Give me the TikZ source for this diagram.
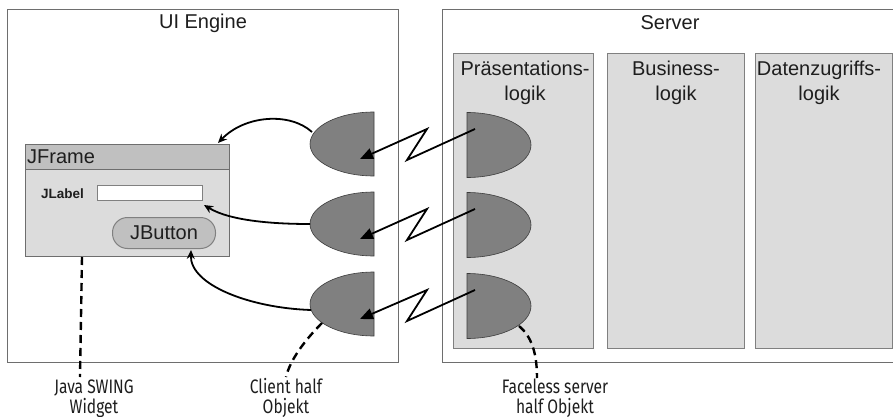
\documentclass[tikz,border=0pt]{standalone}
\usepackage{fontspec}
\setmainfont{Liberation Sans}
\newfontfamily\condfont[FakeStretch=0.8]{Fira Sans}
\usetikzlibrary{arrows.meta}

\definecolor{boxline}{HTML}{6E6E6E}
\definecolor{tierfill}{HTML}{DCDCDC}
\definecolor{tierline}{HTML}{808080}
\definecolor{halffill}{HTML}{808080}
\definecolor{halfline}{HTML}{3C3C3C}
\definecolor{titlefill}{HTML}{C0C0C0}
\definecolor{bodyfill}{HTML}{DCDCDC}
\definecolor{textdark}{HTML}{1E1E1E}

\tikzset{
  container/.style={draw=boxline, line width=1.2pt, fill=white, anchor=north west, inner sep=0pt},
  tierbox/.style={draw=tierline, line width=1pt, fill=tierfill, anchor=north west, inner sep=0pt,
                  minimum height=295pt},
  bigtext/.style={font=\fontsize{20}{24}\selectfont, text=textdark, inner sep=0pt},
  halfshape/.style={fill=halffill, draw=halfline, line width=0.6pt},
  zigzag/.style={line width=1.8pt, -{Triangle[length=13pt,width=11pt]}},
  bindarrow/.style={line width=1.8pt, -{Stealth[length=9pt,width=8pt]}},
  notedash/.style={line width=2.4pt, dash pattern=on 8pt off 5pt},
  notetext/.style={font=\condfont\fontsize{19.5}{22}\selectfont, text=textdark, inner sep=0pt, anchor=base},
  % client half object: flat edge on the right
  clienthalf/.pic={
    \draw[halfshape] (0,-32) arc[start angle=90,end angle=270,x radius=64pt,y radius=32pt] -- cycle;
    \coordinate (-tip) at (-14,15);
    \coordinate (-nw) at (-62,-12);
    \coordinate (-w) at (-64,0);
    \coordinate (-sw) at (-63,6);
    \coordinate (-s) at (-52,19);
  },
  % server half object: flat edge on the left
  serverhalf/.pic={
    \draw[halfshape] (0,-32.5) arc[start angle=90,end angle=-90,x radius=64pt,y radius=32.5pt] -- cycle;
    \coordinate (-out) at (8,-16);
    \coordinate (-s) at (52,20);
  }
}

\begin{document}
\begin{tikzpicture}[x=1pt,y=-1pt]
\useasboundingbox (0,0) rectangle (893,417);
\fill[white] (0,0) rectangle (893,417);

% the two outer containers (the server box runs past the right edge)
\node[container, minimum width=391pt, minimum height=353pt] (ui) at (7,9) {};
\node[container, minimum width=456pt, minimum height=353pt] (server) at (442,9) {};
\node[bigtext] (uititle) at (203,23) {UI Engine};
\node[bigtext] (srvtitle) at (670,23) {Server};

% server tiers
\node[tierbox, minimum width=140pt] (praes) at (453,53) {};
\node[tierbox, minimum width=137pt] (business) at (607,53) {};
\node[tierbox, minimum width=137pt] (daten) at (755,53) {};
\node[bigtext, anchor=base] (praes1) at (525,76) {Präsentations-};
\node[bigtext, anchor=base] (praes2) at (525,101) {logik};
\node[bigtext, anchor=base] (bus1) at (676,76) {Business-};
\node[bigtext, anchor=base] (bus2) at (676,101) {logik};
\node[bigtext, anchor=base] (dat1) at (819,76) {Datenzugriffs-};
\node[bigtext, anchor=base] (dat2) at (819,101) {logik};

% Swing widget window
\node[draw=boxline, line width=1pt, fill=bodyfill, anchor=north west, inner sep=0pt,
      minimum width=204pt, minimum height=112pt] (jframe) at (25,144) {};
\node[draw=boxline, line width=1pt, fill=titlefill, anchor=north west, inner sep=0pt,
      minimum width=204pt, minimum height=25pt] (jtitlebar) at (25,144) {};
\node[bigtext, anchor=west] (jframetext) at (27,157) {JFrame};
\node[font=\bfseries\fontsize{13.5}{16}\selectfont, text=textdark, inner sep=0pt, anchor=base west]
      (jlabel) at (41,198) {JLabel};
\node[draw=tierline, line width=1pt, fill=white, anchor=north west, inner sep=0pt,
      minimum width=105pt, minimum height=15pt] (textfield) at (97,185) {};
\node[draw=tierline, line width=1pt, fill=titlefill, anchor=north west, inner sep=0pt,
      rounded corners=15pt, minimum width=103pt, minimum height=31pt] (jbutton) at (112,217) {};
\node[bigtext] (jbuttontext) at (jbutton.center) {JButton};

% client and server halves of the half objects
\pic (ch1) at (374,144) {clienthalf};
\pic (ch2) at (374,224) {clienthalf};
\pic (ch3) at (374,304) {clienthalf};
\pic (sh1) at (467,145) {serverhalf};
\pic (sh2) at (467,225) {serverhalf};
\pic (sh3) at (467,306) {serverhalf};

% remote links between the halves
\foreach \i in {1,2,3}{
  \draw[zigzag] (sh\i-out) -- ++(-68,31) -- ++(20,-31) -- (ch\i-tip);
}

% bindings from client halves to the widgets
\draw[bindarrow] (ch1-nw) .. controls (290,112) and (245,115) .. ([xshift=-12pt,yshift=1pt]jframe.north east);
\draw[bindarrow] (ch2-w) .. controls (280,224) and (232,222) .. ([xshift=1pt,yshift=-4pt]textfield.south east);
\draw[bindarrow] (ch3-sw) .. controls (250,308) and (190,285) .. ([xshift=27pt,yshift=-1pt]jbutton.south);

% annotations
\node[notetext] (javalbl1) at (94,393) {Java SWING};
\node[notetext] (javalbl2) at (94,413) {Widget};
\node[notetext] (clientlbl1) at (286,393) {Client half};
\node[notetext] (clientlbl2) at (286,413) {Objekt};
\node[notetext] (facelbl1) at (555,393) {Faceless server};
\node[notetext] (facelbl2) at (555,413) {half Objekt};

\coordinate (javaend) at (80,377);
\coordinate (clientend) at (286,377);
\coordinate (faceend) at (537,378);
\draw[notedash] ([xshift=57pt]jframe.south west) -- (javaend);
\draw[notedash] (ch3-s) .. controls (305,340) and (290,360) .. (clientend);
\draw[notedash] (sh3-s) .. controls (531,336) and (537,352) .. (faceend);
\end{tikzpicture}
\end{document}
